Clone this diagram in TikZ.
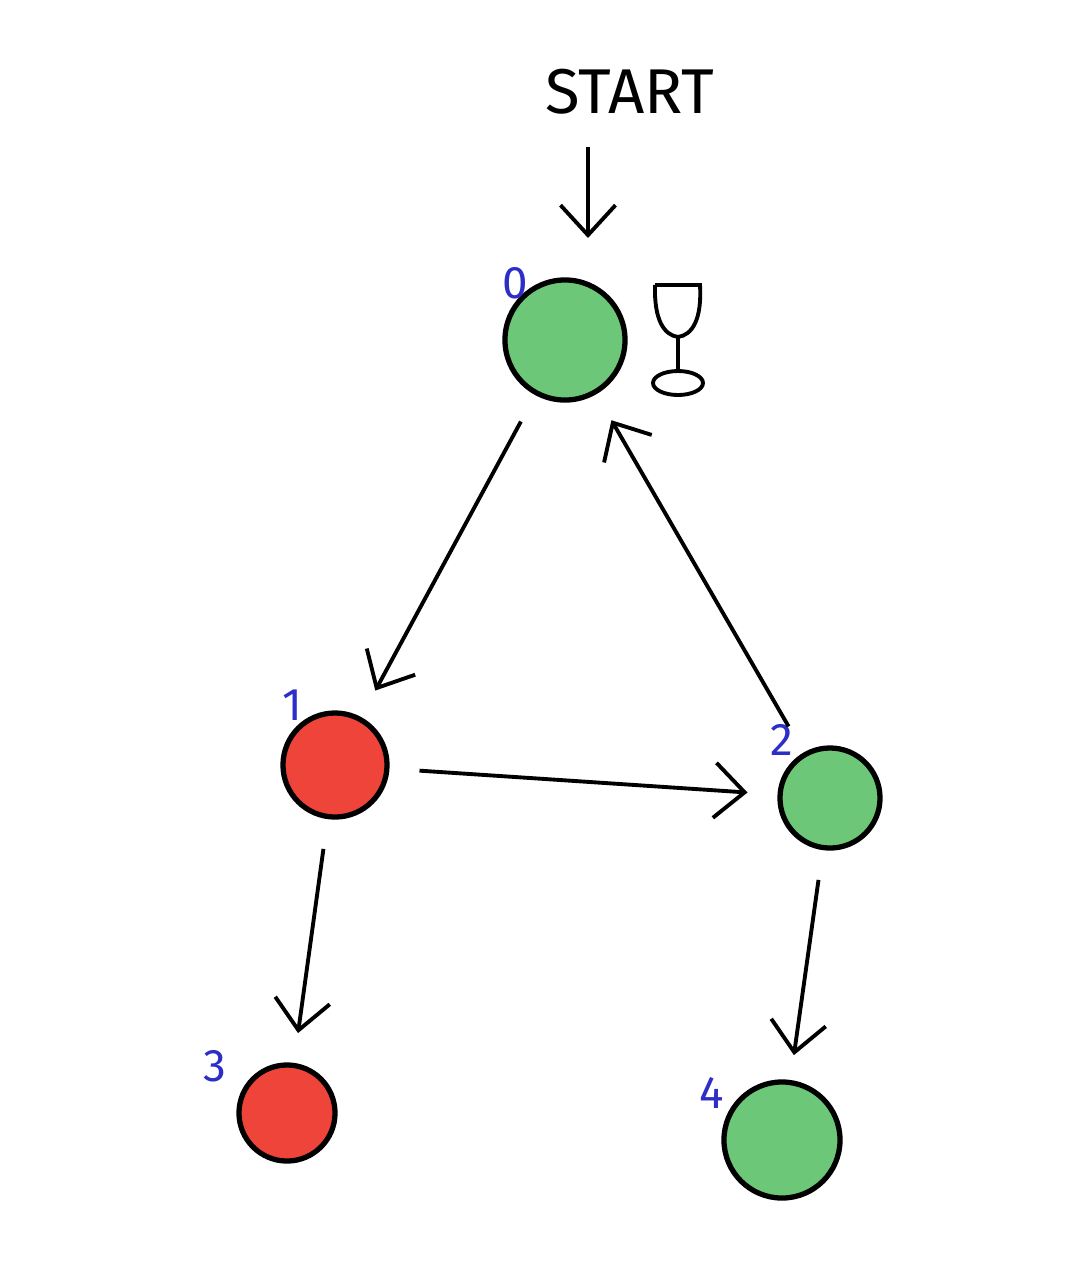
\documentclass[tikz,border=0pt]{standalone}
\usepackage{fontspec}
\setmainfont{Fira Sans}
\usetikzlibrary{positioning, arrows.meta}
\definecolor{stategreen}{RGB}{108,200,120}
\definecolor{statered}{RGB}{238,68,58}
\definecolor{labelblue}{RGB}{45,45,200}
\begin{document}
\begin{tikzpicture}[x=0.01cm, y=-0.01cm,
        state/.style={circle, draw, line width=1.5pt, inner sep=0pt},
        good/.style={state, fill=stategreen},
        bad/.style={state, fill=statered},
        num/.style={text=labelblue, font=\fontsize{13}{13}\selectfont},
        arrow/.style={-{Straight Barb[length=3mm, width=5.5mm, line width=1.1pt]}, line width=1.1pt, shorten <=0.3cm, shorten >=0.3cm}
    ]
        \useasboundingbox (0,0) rectangle (1080,1266);
        \node[font=\fontsize{18}{18}\selectfont] (start) at (630,92) {START};
        \coordinate (startend) at (588,238);

        \node[good, minimum size=1.2cm] (s0) at (565,340) {};
        \node[bad, minimum size=1.04cm] (s1) at (335,765) {};
        \node[good, minimum size=1.0cm] (s2) at (830,798) {};
        \node[bad, minimum size=0.96cm] (s3) at (287,1113) {};
        \node[good, minimum size=1.16cm] (s4) at (782,1140) {};

        \node[num] at (515,283) {0};
        \node[num] at (292,705) {1};
        \node[num] at (782,740) {2};
        \node[num] at (215,1066) {3};
        \node[num] at (712,1093) {4};

        % wine glass
        \draw[line width=1.1pt] (655,285) -- (700,285) .. controls (702,320) and (692,335) .. (678,337) .. controls (664,335) and (654,320) .. (655,285);
        \draw[line width=1.1pt] (678,337) -- (678,372);
        \draw[line width=1.1pt] (678,383) ellipse (25 and 12);

        \draw[arrow, shorten <=0.2cm, shorten >=0cm] (start.south -| startend) -- (startend);
        \draw[arrow] (s0) -- (s1);
        \draw[arrow] (s2) -- (s0);
        \draw[arrow] (s1) -- (s2);
        \draw[arrow] (s1) -- (s3);
        \draw[arrow, shorten >=0.25cm] (s2) -- (s4);
    \end{tikzpicture}
\end{document}
